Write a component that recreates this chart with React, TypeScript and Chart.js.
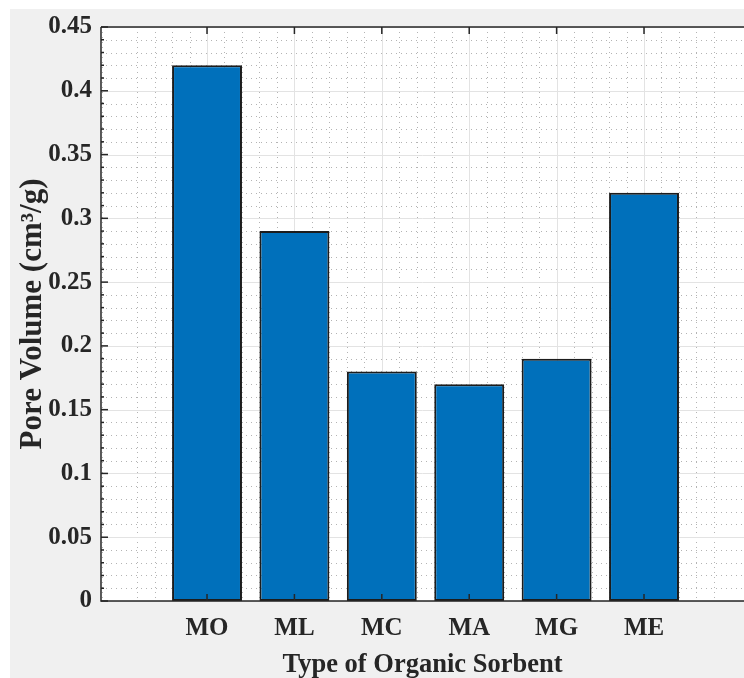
import React, { useEffect, useRef } from "react";
import { Chart, registerables } from "chart.js";

Chart.register(...registerables);

// ---- data ----
const categories = ["MO", "ML", "MC", "MA", "MG", "ME"];
const poreVolume = [0.42, 0.29, 0.18, 0.17, 0.19, 0.32];
const yTickValues = [0, 0.05, 0.1, 0.15, 0.2, 0.25, 0.3, 0.35, 0.4, 0.45];
const xLabel = "Type of Organic Sorbent";
const yLabel = "Pore Volume (cm³/g)";

const FONT = "'Liberation Serif', 'Times New Roman', serif";
const AXIS = "#262626";

const matlabFrame = {
  id: "matlabFrame",
  beforeDraw(chart: any) {
    const { ctx, chartArea: a } = chart;
    ctx.save();
    ctx.fillStyle = "#ffffff";
    ctx.fillRect(0, 0, chart.width, chart.height);
    ctx.fillStyle = "#f0f0f0";
    ctx.fillRect(10, 9, chart.width - 10, chart.height - 9);
    ctx.fillStyle = "#ffffff";
    ctx.fillRect(a.left, a.top, a.right - a.left, a.bottom - a.top);
    ctx.restore();
  },
  beforeDatasetsDraw(chart: any) {
    const { ctx, chartArea: a, scales } = chart;
    const xs = scales.x;
    const ys = scales.y;
    ctx.save();
    // minor grid (dotted)
    ctx.strokeStyle = "#b4b4b4";
    ctx.lineWidth = 1;
    ctx.setLineDash([1, 4]);
    for (let i = 1; i < 45; i++) {
      if (i % 5 === 0) continue;
      const y = Math.round(ys.getPixelForValue(i / 100)) + 0.5;
      ctx.beginPath();
      ctx.moveTo(a.left, y);
      ctx.lineTo(a.right, y);
      ctx.stroke();
    }
    for (let k = -1; k <= 40; k++) {
      if (k % 5 === 0) continue;
      const v = k / 5;
      if (v <= xs.min || v >= xs.max) continue;
      const x = Math.round(xs.getPixelForValue(v)) + 0.5;
      ctx.beginPath();
      ctx.moveTo(x, a.top);
      ctx.lineTo(x, a.bottom);
      ctx.stroke();
    }
    ctx.setLineDash([]);
    // major grid
    ctx.strokeStyle = "#e3e3e3";
    yTickValues.forEach((v) => {
      const y = Math.round(ys.getPixelForValue(v)) + 0.5;
      ctx.beginPath();
      ctx.moveTo(a.left, y);
      ctx.lineTo(a.right, y);
      ctx.stroke();
    });
    categories.forEach((_, i) => {
      const x = Math.round(xs.getPixelForValue(i + 1)) + 0.5;
      ctx.beginPath();
      ctx.moveTo(x, a.top);
      ctx.lineTo(x, a.bottom);
      ctx.stroke();
    });
    ctx.restore();
  },
  afterDatasetsDraw(chart: any) {
    const { ctx, chartArea: a, scales } = chart;
    const xs = scales.x;
    const ys = scales.y;
    ctx.save();
    ctx.strokeStyle = AXIS;
    ctx.lineWidth = 1.5;
    ctx.beginPath();
    ctx.moveTo(a.left, a.top);
    ctx.lineTo(a.right, a.top);
    ctx.moveTo(a.left, a.top);
    ctx.lineTo(a.left, a.bottom);
    ctx.lineTo(a.right, a.bottom);
    ctx.stroke();
    // y ticks
    for (let i = 0; i <= 45; i++) {
      const y = ys.getPixelForValue(i / 100);
      const len = i % 5 === 0 ? 7 : 3;
      ctx.beginPath();
      ctx.moveTo(a.left, y);
      ctx.lineTo(a.left + len, y);
      ctx.stroke();
    }
    // x ticks
    categories.forEach((_, i) => {
      const x = xs.getPixelForValue(i + 1);
      ctx.beginPath();
      ctx.moveTo(x, a.bottom);
      ctx.lineTo(x, a.bottom - 7);
      ctx.moveTo(x, a.top);
      ctx.lineTo(x, a.top + 7);
      ctx.stroke();
    });
    ctx.restore();
  },
};

export default function App() {
  const ref = useRef<HTMLCanvasElement>(null);
  useEffect(() => {
    if (!ref.current) return;
    const chart = new Chart(ref.current, {
      type: "bar",
      data: {
        datasets: [
          {
            data: poreVolume.map((v, i) => ({ x: i + 1, y: v })),
            backgroundColor: "#0070BB",
            borderColor: "#1c1c1c",
            borderWidth: 2,
            borderSkipped: false,
            barPercentage: 0.8,
            categoryPercentage: 1,
          },
        ],
      },
      options: {
        responsive: false,
        animation: false,
        devicePixelRatio: 1,
        layout: { padding: { left: 0, top: 27, right: 0, bottom: 0 } },
        plugins: { legend: { display: false }, tooltip: { enabled: false } },
        scales: {
          x: {
            type: "linear",
            min: -0.213,
            max: 7.144,
            offset: false,
            grid: { display: false, offset: false, drawTicks: false },
            border: { display: false },
            afterBuildTicks: (scale: any) => {
              scale.ticks = categories.map((_, i) => ({ value: i + 1 }));
            },
            afterFit: (scale: any) => {
              scale.height = 77;
            },
            ticks: {
              autoSkip: false,
              maxRotation: 0,
              padding: 13,
              color: AXIS,
              font: { family: FONT, size: 25, weight: "bold", lineHeight: 1.2 },
              callback: (v: any) => categories[Math.round(v) - 1] ?? "",
            },
            title: {
              display: true,
              text: xLabel,
              color: AXIS,
              padding: { top: 0, bottom: 0 },
              font: { family: FONT, size: 26.5, weight: "bold", lineHeight: 1 },
            },
          },
          y: {
            type: "linear",
            min: 0,
            max: 0.45,
            grid: { display: false, drawTicks: false },
            border: { display: false },
            afterBuildTicks: (scale: any) => {
              scale.ticks = yTickValues.map((v) => ({ value: v }));
            },
            afterFit: (scale: any) => {
              scale.width = 101;
            },
            ticks: {
              padding: 9,
              color: AXIS,
              font: { family: FONT, size: 25, weight: "bold" },
              callback: (v: any) => String(+Number(v).toFixed(2)),
            },
            title: {
              display: true,
              text: yLabel,
              color: AXIS,
              padding: { top: 17, bottom: 0 },
              font: { family: FONT, size: 31, weight: "bold", lineHeight: 1 },
            },
          },
        },
      },
      plugins: [matlabFrame],
    });
    return () => chart.destroy();
  }, []);
  return (
    <div style={{ position: "absolute", left: 0, top: 0, width: 744, height: 678, overflow: "hidden" }}>
      <canvas ref={ref} width={744} height={678} style={{ display: "block" }} />
    </div>
  );
}
